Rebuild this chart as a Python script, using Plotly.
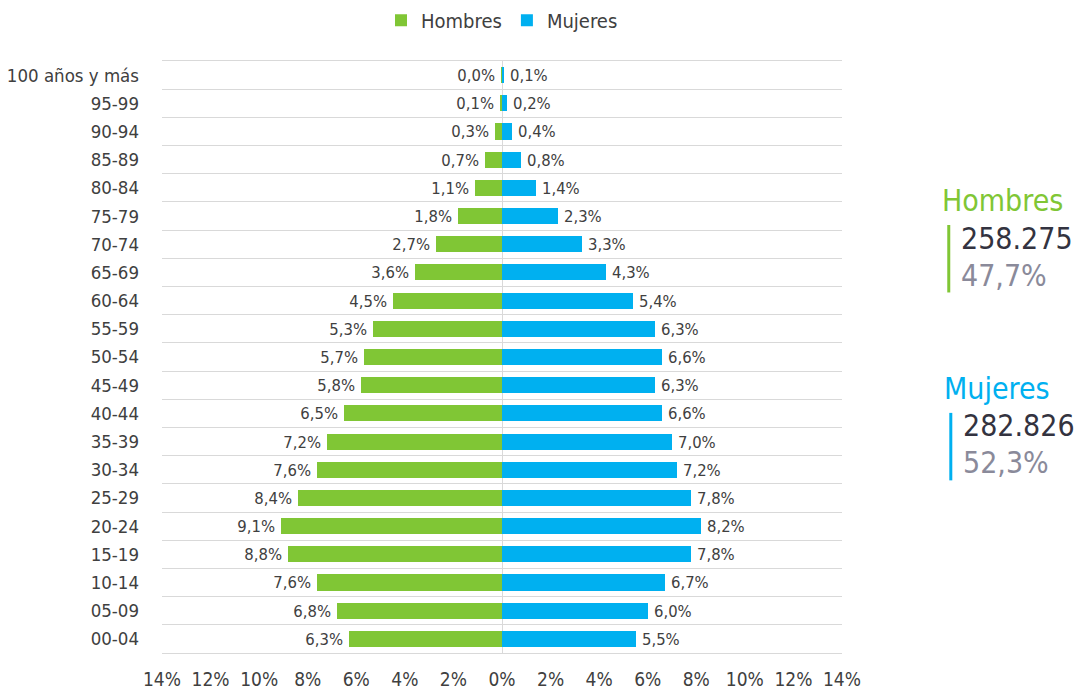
import plotly.graph_objects as go

# age groups from bottom to top
age_groups = ["00-04", "05-09", "10-14", "15-19", "20-24", "25-29", "30-34", "35-39",
              "40-44", "45-49", "50-54", "55-59", "60-64", "65-69", "70-74", "75-79",
              "80-84", "85-89", "90-94", "95-99", "100 años y más"]
hombres = [6.3, 6.8, 7.6, 8.8, 9.1, 8.4, 7.6, 7.2, 6.5, 5.8, 5.7, 5.3, 4.5, 3.6, 2.7, 1.8,
           1.1, 0.7, 0.3, 0.1, 0.04]
mujeres = [5.5, 6.0, 6.7, 7.8, 8.2, 7.8, 7.2, 7.0, 6.6, 6.3, 6.6, 6.3, 5.4, 4.3, 3.3, 2.3,
           1.4, 0.8, 0.4, 0.2, 0.1]
x_ticks = [-14, -12, -10, -8, -6, -4, -2, 0, 2, 4, 6, 8, 10, 12, 14]

total_hombres = "258.275"
pct_hombres = "47,7%"
total_mujeres = "282.826"
pct_mujeres = "52,3%"

GREEN = "#80C635"
BLUE = "#00B0F0"
TEXT = "#404040"
GRID = "#D9D9D9"
FONT = "DejaVu Sans Condensed, Liberation Sans Narrow, sans-serif"


def fmt(v):
    return f"{v:.1f}".replace(".", ",") + "%"


ypos = list(range(len(age_groups)))

fig = go.Figure()
fig.add_trace(go.Bar(
    y=ypos, x=[-v for v in hombres], orientation="h", name="Hombres",
    marker=dict(color=GREEN, line=dict(width=0)), width=0.57,
    text=[fmt(v) + "\u2009" for v in hombres], textposition="outside", constraintext="none",
    textfont=dict(size=16.5, color=TEXT, family=FONT), cliponaxis=False,
    hovertemplate="%{text}<extra>Hombres</extra>",
))
fig.add_trace(go.Bar(
    y=ypos, x=mujeres, orientation="h", name="Mujeres",
    marker=dict(color=BLUE, line=dict(width=0)), width=0.57,
    text=["\u2009" + fmt(v) for v in mujeres], textposition="outside", constraintext="none",
    textfont=dict(size=16.5, color=TEXT, family=FONT), cliponaxis=False,
    hovertemplate="%{text}<extra>Mujeres</extra>",
))
# invisible trace to carry the row separator grid
fig.add_trace(go.Scatter(x=[0], y=[0], yaxis="y2", mode="markers",
                         marker=dict(opacity=0), showlegend=False, hoverinfo="skip"))

fig.update_layout(
    width=1081, height=691,
    margin=dict(l=162, r=239, t=61, b=38, autoexpand=False),
    paper_bgcolor="white", plot_bgcolor="white",
    barmode="overlay", bargap=0,
    font=dict(family=FONT, color=TEXT, size=16),
    legend=dict(orientation="h", x=0.5, xanchor="center", y=1.069, yanchor="middle",
                font=dict(size=20, color=TEXT), itemwidth=30, traceorder="normal"),
    xaxis=dict(range=[-14, 14], tickvals=x_ticks, ticktext=[f"{abs(t)}%" for t in x_ticks],
               showgrid=False, zeroline=True, zerolinecolor=GRID, zerolinewidth=1,
               showline=True, mirror=True, linecolor=GRID, linewidth=1,
               tickfont=dict(size=19), ticklabelstandoff=9, fixedrange=True),
    yaxis=dict(range=[-0.5, len(age_groups) - 0.5], tickvals=ypos, ticktext=age_groups,
               showgrid=False, zeroline=False, tickfont=dict(size=18.5),
               ticklabelstandoff=22, fixedrange=True),
    yaxis2=dict(overlaying="y", range=[-0.5, len(age_groups) - 0.5],
                tickvals=[i - 0.5 for i in range(len(age_groups) + 1)],
                showticklabels=False, showgrid=True, gridcolor=GRID, gridwidth=1,
                zeroline=False, fixedrange=True),
)

# side summary: (name, total, share, colour, title x, title y, text x, line x)
summary = [
    ("Hombres", total_hombres, pct_hombres, GREEN, 1.144, 0.765, 1.1715, 1.157),
    ("Mujeres", total_mujeres, pct_mujeres, BLUE, 1.147, 0.4476, 1.1745, 1.160),
]
for name, total, pct, color, tx, ty, nx, lx in summary:
    fig.add_annotation(xref="paper", yref="paper", x=tx, y=ty, xanchor="left",
                       yanchor="middle", text=name, showarrow=False,
                       font=dict(size=30, color=color, family=FONT))
    fig.add_annotation(xref="paper", yref="paper", x=nx, y=ty - 0.064, xanchor="left",
                       yanchor="middle", text=total, showarrow=False,
                       font=dict(size=30, color="#333340", family=FONT))
    fig.add_annotation(xref="paper", yref="paper", x=nx, y=ty - 0.1265, xanchor="left",
                       yanchor="middle", text=pct, showarrow=False,
                       font=dict(size=30, color="#8A8A9A", family=FONT))
    fig.add_shape(type="line", xref="paper", yref="paper", x0=lx, x1=lx,
                  y0=ty - 0.042, y1=ty - 0.156, line=dict(color=color, width=3))

fig.write_html("out.html", config=dict(displayModeBar=False),
               post_script="document.body.style.margin='0';")
